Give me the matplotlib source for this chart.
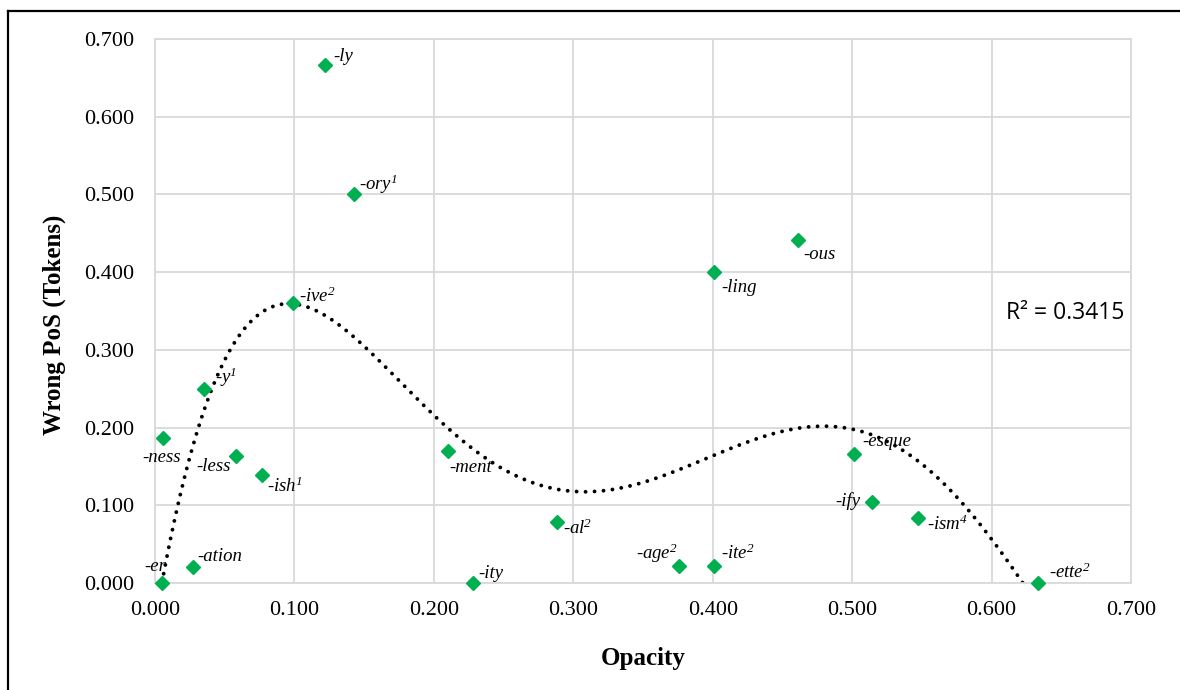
import matplotlib.pyplot as plt
import numpy as np
from matplotlib.lines import Line2D

plt.rcParams['mathtext.fontset'] = 'custom'
plt.rcParams['mathtext.rm'] = 'Liberation Serif:italic'
plt.rcParams['mathtext.it'] = 'Liberation Serif:italic'

# suffix data
suffixes = ['-er', '-ation', '-ness', '-y$^1$', '-less', '-ish$^1$', '-ive$^2$', '-ly', '-ory$^1$',
            '-ment', '-ity', '-al$^2$', '-age$^2$', '-ite$^2$', '-ling', '-ous', '-esque', '-ify',
            '-ism$^4$', '-ette$^2$']
opacity = [0.005, 0.027, 0.006, 0.035, 0.058, 0.077, 0.099, 0.122, 0.143,
           0.210, 0.228, 0.288, 0.376, 0.401, 0.401, 0.461, 0.501, 0.514,
           0.547, 0.633]
wrong_pos = [0.000, 0.020, 0.187, 0.250, 0.163, 0.139, 0.360, 0.667, 0.500,
             0.170, 0.000, 0.078, 0.022, 0.022, 0.400, 0.441, 0.166, 0.104,
             0.083, 0.000]
# label offsets in points (dx, dy, ha)
offsets = [(3, 12, 'right'), (3, 8, 'left'), (-1, -14, 'center'), (8, 8, 'left'),
           (-4, -7, 'right'), (3, -8, 'left'), (4, 5, 'left'), (6, 6, 'left'),
           (3, 7, 'left'), (1, -12, 'left'), (4, 7, 'left'), (5, -4, 'left'),
           (-1, 9, 'right'), (5, 9, 'left'), (5, -11, 'left'), (4, -10, 'left'),
           (6, 9, 'left'), (-8, 1, 'right'), (7, -4, 'left'), (8, 8, 'left')]

x = np.array(opacity)
y = np.array(wrong_pos)

fig = plt.figure(figsize=(11.8, 6.9), dpi=100)
ax = fig.add_axes([155 / 1180, 1 - 583 / 690, (1131 - 155) / 1180, (583 - 39) / 690])

grid_col = '#d9d9d9'
ticks = np.arange(0, 0.71, 0.1)
ax.set_xlim(0, 0.7)
ax.set_ylim(0, 0.7)
ax.set_xticks(ticks)
ax.set_yticks(ticks)
ax.set_xticklabels(['%.3f' % v for v in ticks], fontsize=16, family='Liberation Serif')
ax.set_yticklabels(['%.3f' % v for v in ticks], fontsize=16, family='Liberation Serif')
ax.tick_params(axis='x', length=0, pad=13)
ax.tick_params(axis='y', length=0, pad=15)
ax.grid(True, color=grid_col, lw=1.3)
ax.set_axisbelow(True)
for s in ax.spines.values():
    s.set_color(grid_col)
    s.set_linewidth(1.3)

# polynomial trendline (order 5)
coef = np.polyfit(x, y, 5)
xs = np.linspace(x.min(), x.max(), 400)
ax.plot(xs, np.polyval(coef, xs), color='black', lw=2.8, linestyle=(0, (0.01, 2.3)),
        dash_capstyle='round', zorder=2)

ax.plot(x, y, linestyle='none', marker='D', ms=7.5, color='#00b050', zorder=3, clip_on=False)

for lab, xi, yi, (dx, dy, ha) in zip(suffixes, opacity, wrong_pos, offsets):
    ax.annotate(lab, (xi, yi), xytext=(dx, dy), textcoords='offset points', ha=ha, va='center',
                fontsize=13.5, style='italic', family='Liberation Serif', zorder=4)

ax.text(0.993, 0.496, 'R² = 0.3415', ha='right', va='center', fontsize=16.5, family='Open Sans',
        transform=ax.transAxes)

ax.set_xlabel('Opacity', fontsize=18, fontweight='bold', family='Liberation Serif')
ax.set_ylabel('Wrong PoS (Tokens)', fontsize=18, fontweight='bold', family='Liberation Serif')
ax.xaxis.set_label_coords(0.5, -0.118)
ax.yaxis.set_label_coords(-0.091, 0.474)

# chart border (top and left visible)
fig.add_artist(Line2D([8 / 1180, 1], [1 - 10.5 / 690, 1 - 10.5 / 690], color='black', lw=1.6))
fig.add_artist(Line2D([8 / 1180, 8 / 1180], [0, 1 - 10.5 / 690], color='black', lw=1.6))

plt.savefig('out.png', dpi=100)
